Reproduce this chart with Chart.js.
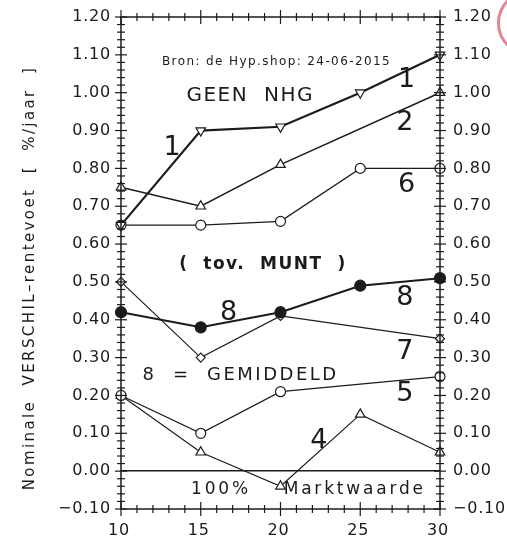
<!DOCTYPE html>
<html>
<head>
<meta charset="utf-8">
<script src="https://cdn.jsdelivr.net/npm/chart.js@4.4.1/dist/chart.umd.min.js"></script>
<style>
body { margin: 0; background: #fff; }
#wrap { position: relative; width: 507px; height: 542px; overflow: hidden; }
#stamp { position: absolute; left: 497px; top: -10px; width: 60px; height: 60px; border: 3px solid rgba(220, 90, 110, 0.75); border-radius: 50%; }
</style>
</head>
<body>
<div id="wrap">
<canvas id="chart" width="507" height="542"></canvas>
<div id="stamp"></div>
</div>
<script>
// looptijd (jaren)
const maturities = [10, 15, 20, 25, 30];

// verschil-rentevoet per lijn
const line1 = [0.65, 0.90, 0.91, 1.00, 1.10];
const line2 = [0.75, 0.70, 0.81, null, 1.00];
const line6 = [0.65, 0.65, 0.66, 0.80, 0.80];
const line8 = [0.42, 0.38, 0.42, 0.49, 0.51];
const line7 = [0.50, 0.30, 0.41, null, 0.35];
const line5 = [0.20, 0.10, 0.21, null, 0.25];
const line4 = [0.20, 0.05, -0.04, 0.15, 0.05];

const xTickValues = [10, 15, 20, 25, 30];
const xTickLabels = ['10', '15', '20', '25', '30'];
const yTickValues = [-0.1, 0, 0.1, 0.2, 0.3, 0.4, 0.5, 0.6, 0.7, 0.8, 0.9, 1.0, 1.1, 1.2];
const yTickLabels = ['\u22120.10', '0.00', '0.10', '0.20', '0.30', '0.40', '0.50', '0.60', '0.70', '0.80', '0.90', '1.00', '1.10', '1.20'];

const ink = '#1b1b1b';
const font = 'DejaVu Sans';

// teksten in het plot, geplaatst in data-eenheden
const notes = [
    { text: 'Bron: de Hyp.shop: 24-06-2015', x: 19.75, y: 1.081, size: 12, spacing: 1.4 },
    { text: 'GEEN  NHG', x: 18.1, y: 0.993, size: 20, spacing: 1.5 },
    { text: '1', x: 13.2, y: 0.855, size: 27, spacing: 0 },
    { text: '1', x: 27.9, y: 1.033, size: 27, spacing: 0 },
    { text: '2', x: 27.8, y: 0.921, size: 27, spacing: 0 },
    { text: '6', x: 27.9, y: 0.757, size: 27, spacing: 0 },
    { text: '(  tov.  MUNT  )', x: 18.9, y: 0.545, size: 17, spacing: 1.5, bold: true },
    { text: '8', x: 16.75, y: 0.417, size: 27, spacing: 0 },
    { text: '8', x: 27.8, y: 0.457, size: 27, spacing: 0 },
    { text: '7', x: 27.8, y: 0.314, size: 27, spacing: 0 },
    { text: '8  =  GEMIDDELD', x: 17.5, y: 0.253, size: 18, spacing: 2.5 },
    { text: '5', x: 27.8, y: 0.205, size: 27, spacing: 0 },
    { text: '4', x: 22.4, y: 0.080, size: 27, spacing: 0 },
    { text: '100%    Marktwaarde', x: 21.75, y: -0.050, size: 17, spacing: 2.8 }
];

function points(values) {
    return maturities.map((m, i) => ({ x: m, y: values[i] }));
}

function makeSet(label, values, style) {
    return Object.assign({
        label: label,
        data: points(values),
        borderColor: ink,
        backgroundColor: '#fff',
        pointBorderColor: ink,
        pointBackgroundColor: '#fff',
        borderWidth: 1.2,
        pointBorderWidth: 1.2,
        pointRadius: 5,
        tension: 0,
        spanGaps: true,
        clip: false
    }, style);
}

function line(ctx, x1, y1, x2, y2) {
    ctx.beginPath();
    ctx.moveTo(x1, y1);
    ctx.lineTo(x2, y2);
    ctx.stroke();
}

const framePlugin = {
    id: 'frame',
    afterDatasetsDraw(chart) {
        const ctx = chart.ctx;
        const a = chart.chartArea;
        const xs = chart.scales.x;
        const ys = chart.scales.y;
        ctx.save();
        ctx.strokeStyle = ink;
        ctx.fillStyle = ink;
        ctx.lineWidth = 1.5;
        ctx.strokeRect(a.left, a.top, a.right - a.left, a.bottom - a.top);

        ctx.lineWidth = 1.2;
        for (let v = 10; v <= 30; v++) {
            const px = xs.getPixelForValue(v);
            const len = v % 5 == 0 ? 7 : 4;
            line(ctx, px, a.top - len, px, a.top + len);
            line(ctx, px, a.bottom - len, px, a.bottom + len);
        }
        for (let i = -5; i <= 60; i++) {
            const py = ys.getPixelForValue(i * 0.02);
            const len = i % 5 == 0 ? 6 : 4;
            line(ctx, a.left - len, py, a.left + len, py);
            line(ctx, a.right - len, py, a.right + len, py);
        }

        ctx.font = '16px ' + font;
        ctx.letterSpacing = '0.8px';
        ctx.textBaseline = 'middle';
        for (let i = 0; i < yTickValues.length; i++) {
            const py = ys.getPixelForValue(yTickValues[i]);
            ctx.textAlign = 'right';
            ctx.fillText(yTickLabels[i], a.left - 10, py);
            ctx.textAlign = 'left';
            ctx.fillText(yTickLabels[i], a.right + 13, py);
        }
        ctx.textAlign = 'center';
        for (let i = 0; i < xTickValues.length; i++) {
            const px = xs.getPixelForValue(xTickValues[i]);
            ctx.fillText(xTickLabels[i], px - 2, a.bottom + 22);
        }

        // as-titel
        ctx.save();
        ctx.translate(30, (a.top + a.bottom) / 2 + 15);
        ctx.rotate(-Math.PI / 2);
        ctx.font = '15px ' + font;
        ctx.letterSpacing = '2.4px';
        ctx.fillText('Nominale  VERSCHIL\u2013rentevoet  [  %/jaar  ]', 0, 0);
        ctx.restore();

        notes.forEach(n => {
            ctx.font = (n.bold ? 'bold ' : '') + n.size + 'px ' + font;
            ctx.letterSpacing = n.spacing + 'px';
            ctx.fillText(n.text, xs.getPixelForValue(n.x), ys.getPixelForValue(n.y));
        });
        ctx.restore();
    }
};

const ctx = document.getElementById('chart');
new Chart(ctx, {
    type: 'line',
    data: {
        datasets: [
            makeSet('1', line1, { borderWidth: 2.2, pointStyle: 'triangle', rotation: 180, pointRadius: 5.5 }),
            makeSet('2', line2, { borderWidth: 1.5, pointStyle: 'triangle', pointRadius: 5.5 }),
            makeSet('6', line6, { pointStyle: 'circle' }),
            makeSet('8', line8, { borderWidth: 2, pointStyle: 'circle', pointBackgroundColor: ink, pointRadius: 5.5 }),
            makeSet('7', line7, { pointStyle: 'rectRot', pointRadius: 4.5 }),
            makeSet('5', line5, { pointStyle: 'circle' }),
            makeSet('4', line4, { pointStyle: 'triangle', pointRadius: 5.5 })
        ]
    },
    options: {
        responsive: false,
        animation: false,
        layout: { padding: { left: 121, right: 67, top: 17, bottom: 25 } },
        plugins: { legend: { display: false }, tooltip: { enabled: false } },
        scales: {
            x: {
                type: 'linear', min: 10, max: 30,
                ticks: { display: false, stepSize: 5 },
                grid: { display: false },
                border: { display: false }
            },
            y: {
                min: -0.1, max: 1.2,
                ticks: { display: false, stepSize: 0.1 },
                grid: {
                    drawTicks: false,
                    lineWidth: 1.5,
                    color: c => Math.abs(c.tick.value) < 1e-9 ? ink : 'transparent'
                },
                border: { display: false }
            }
        }
    },
    plugins: [framePlugin]
});
</script>
</body>
</html>
